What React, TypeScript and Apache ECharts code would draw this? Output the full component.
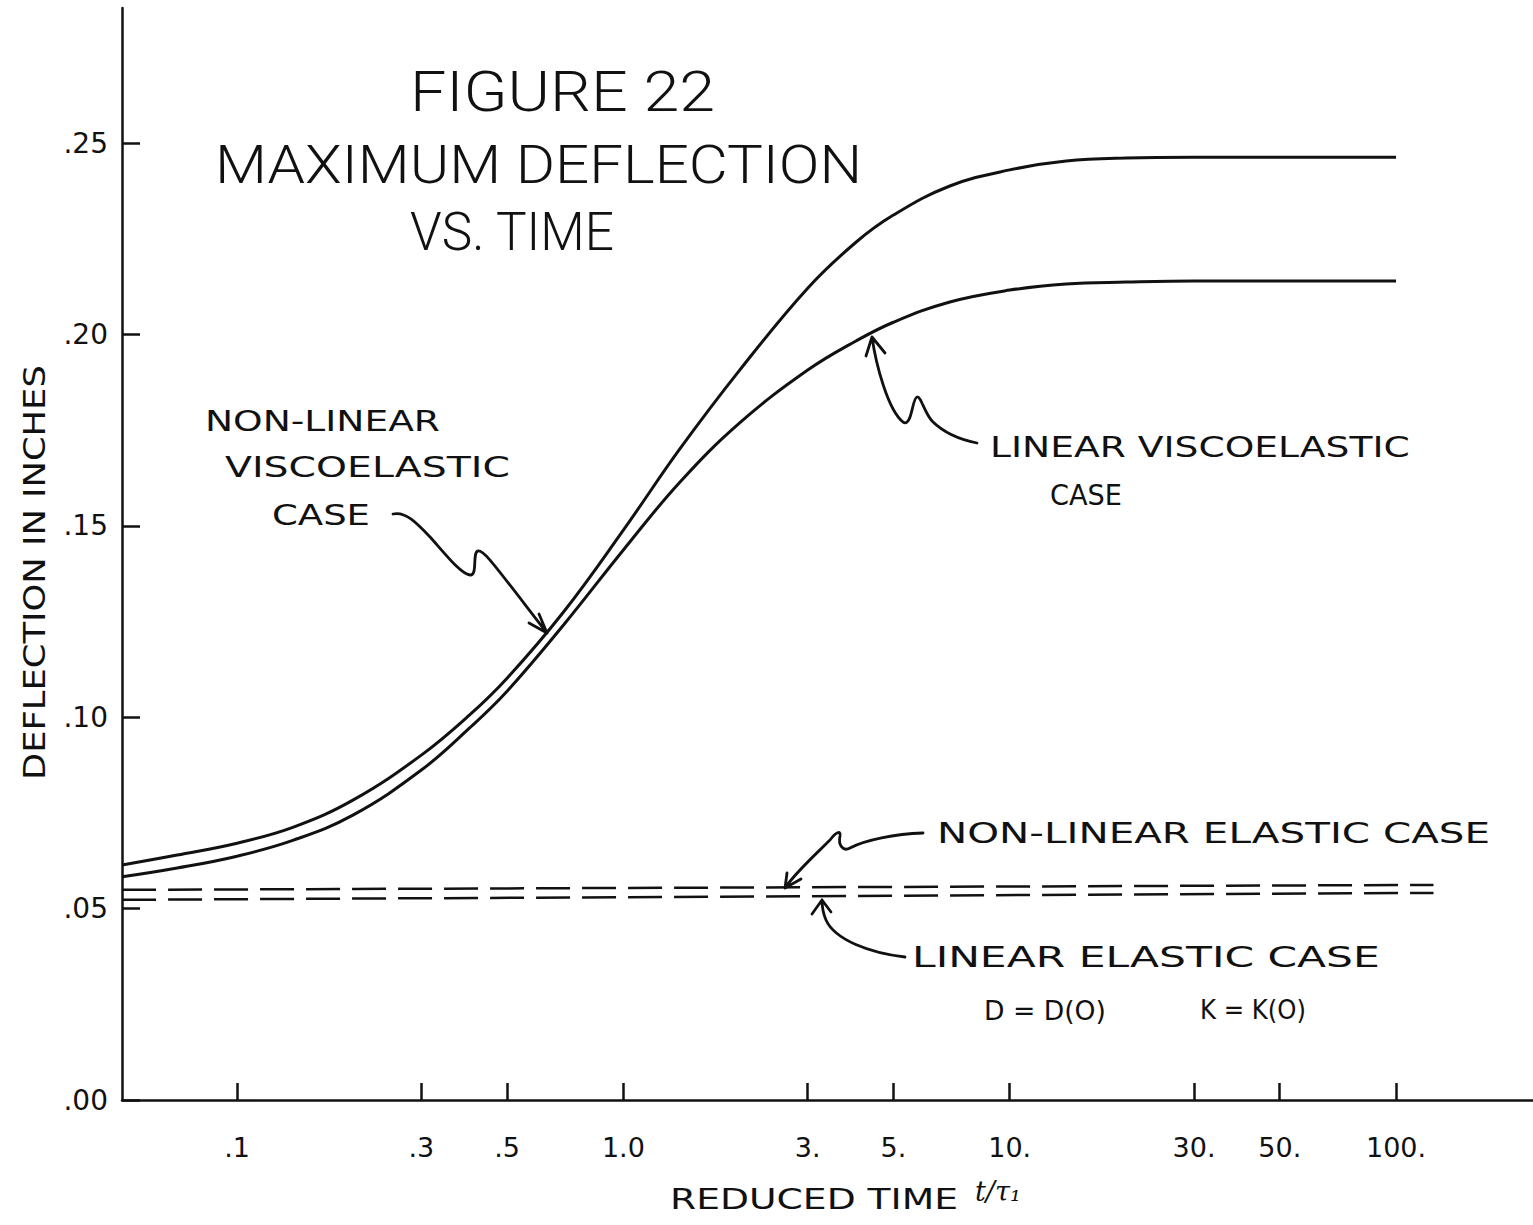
import React, { useEffect, useRef } from "react";
import * as echarts from "echarts";

// Reduced time t/τ1 sample points and the two viscoelastic deflection curves (inches)
const T_SAMPLES = [0.0504, 0.07, 0.1, 0.14, 0.2, 0.3, 0.4, 0.5, 0.7, 1, 1.4, 2, 3, 4, 5, 7, 10, 14, 20, 30, 50, 70, 100];
const NONLINEAR_VISCO = [0.0614, 0.064, 0.0671, 0.0713, 0.0784, 0.0901, 0.1006, 0.1102, 0.1275, 0.1489, 0.1701, 0.1907, 0.2121, 0.2241, 0.2312, 0.2388, 0.243, 0.2453, 0.2461, 0.2463, 0.2463, 0.2463, 0.2463];
const LINEAR_VISCO = [0.0583, 0.0606, 0.0637, 0.0679, 0.0745, 0.0862, 0.0972, 0.1068, 0.1241, 0.1437, 0.1614, 0.1769, 0.1907, 0.1983, 0.2032, 0.2085, 0.2116, 0.2132, 0.2137, 0.214, 0.214, 0.214, 0.214];

// Elastic reference cases (nearly constant)
const ELASTIC_T = [0.0504, 125];
const NONLINEAR_ELASTIC = [0.0549, 0.0562];
const LINEAR_ELASTIC = [0.0523, 0.0541];

// Axis ticks
const X_TICKS = [0.1, 0.3, 0.5, 1, 3, 5, 10, 30, 50, 100];
const X_TICK_LABELS = [".1", ".3", ".5", "1.0", "3.", "5.", "10.", "30.", "50.", "100."];
const Y_TICKS = [0, 0.05, 0.1, 0.15, 0.2, 0.25];
const Y_TICK_LABELS = [".00", ".05", ".10", ".15", ".20", ".25"];

const X_MIN_T = 0.05038;
const X_MAX_T = 226.2;
const Y_MAX = 0.2853;

const INK = "#111";
const FONT = '"DejaVu Sans", "Liberation Sans", sans-serif';
const TITLE_FONT = 'Roboto, "DejaVu Sans", sans-serif';

// Leader arrows (page pixels), each one curve plus an open arrowhead
const ARROW_PATHS = [
  "M393,514 C405,511 416,522 431,538 C446,555 461,574 470,575 C478,576 472,552 478,551 C484,550 492,562 547,633 M529,623 L547,633 L539,614",
  "M872,337 C876,365 888,410 903,422 C912,428 912,398 917,397 C921,396 924,412 932,421 C945,434 962,440 977,443 M866,356 L872,337 L885,353",
  "M923,833 C895,834 865,840 850,848 C843,852 838,845 840,836 C841,830 836,832 830,840 C815,855 795,873 785,888 M787,873 L785,888 L801,879",
  "M905,957 C870,953 835,940 826,920 C823,913 822,905 822,900 M812,914 L822,900 L831,912",
];

// Lettering: text, left, right, vertical centre, font size, title face?
const LETTERING: [string, number, number, number, number, boolean][] = [
  ["FIGURE 22", 410, 715, 92, 56, true],
  ["MAXIMUM DEFLECTION", 215, 862, 165, 54, true],
  ["VS. TIME", 410, 615, 232, 54, true],
  ["NON-LINEAR", 205, 440, 421, 29, false],
  ["VISCOELASTIC", 225, 510, 467, 29, false],
  ["CASE", 272, 370, 515, 29, false],
  ["LINEAR VISCOELASTIC", 990, 1410, 447, 29, false],
  ["CASE", 1050, 1122, 495, 29, false],
  ["NON-LINEAR ELASTIC CASE", 937, 1490, 833, 29, false],
  ["LINEAR ELASTIC CASE", 912, 1380, 957, 29, false],
  ["D = D(O)", 984, 1106, 1010, 27, false],
  ["K = K(O)", 1200, 1306, 1010, 27, false],
  ["REDUCED TIME", 670, 958, 1199, 29, false],
];

let measureCtx: CanvasRenderingContext2D | null = null;
function textWidth(text: string, size: number, family = FONT, weight: string | number = "normal"): number {
  if (!measureCtx) measureCtx = document.createElement("canvas").getContext("2d");
  if (!measureCtx) return text.length * size * 0.6;
  measureCtx.font = `normal normal ${weight} ${size}px ${family}`;
  return measureCtx.measureText(text).width;
}

function lettering(text: string, left: number, right: number, cy: number, size: number, title: boolean) {
  const family = title ? TITLE_FONT : FONT;
  const weight = title ? 300 : "normal";
  const w = textWidth(text, size, family, weight);
  return {
    type: "text",
    x: left,
    y: cy,
    scaleX: (right - left) / w,
    silent: true,
    style: {
      text,
      fontFamily: family,
      fontWeight: weight,
      fontSize: size,
      fill: INK,
      textAlign: "left",
      textVerticalAlign: "middle",
    },
  };
}

const lg = (t: number) => Math.log10(t);

function labelFor(v: number, ticks: number[], labels: string[], map: (x: number) => number) {
  const i = ticks.findIndex((t) => Math.abs(map(t) - v) < 1e-6);
  return i >= 0 ? labels[i] : "";
}

export default function App() {
  const ref = useRef<HTMLDivElement>(null);

  useEffect(() => {
    if (!ref.current) return;
    ARROW_PATHS.forEach((d, i) => {
      echarts.graphic.registerShape("leader" + i, echarts.graphic.extendPath(d, {}));
    });
    const chart = echarts.init(ref.current, undefined, { renderer: "svg" });

    const curve = (name: string, ts: number[], ys: number[], dashed: boolean) => ({
      name,
      type: "line",
      data: ts.map((t, i) => [lg(t), ys[i]]),
      smooth: dashed ? false : 0.4,
      showSymbol: false,
      silent: true,
      lineStyle: dashed
        ? { color: INK, width: 2.5, type: [34, 12] }
        : { color: INK, width: 3 },
    });

    const yTitleW = textWidth("DEFLECTION IN INCHES", 30);

    chart.setOption({
      animation: false,
      backgroundColor: "#fff",
      grid: { left: 122, right: 0, top: 8, bottom: 125, outerBoundsMode: "none" },
      xAxis: {
        type: "value",
        min: lg(X_MIN_T),
        max: lg(X_MAX_T),
        axisLine: { show: true, onZero: false, lineStyle: { color: INK, width: 2.5 } },
        axisTick: {
          show: true,
          inside: true,
          length: 17,
          customValues: X_TICKS.map(lg),
          lineStyle: { color: INK, width: 2.5 },
        },
        axisLabel: {
          show: true,
          margin: 34,
          customValues: X_TICKS.map(lg),
          color: INK,
          fontFamily: FONT,
          fontSize: 27,
          formatter: (v: number) => labelFor(v, X_TICKS, X_TICK_LABELS, lg),
        },
        splitLine: { show: false },
      },
      yAxis: {
        type: "value",
        min: 0,
        max: Y_MAX,
        axisLine: { show: true, onZero: false, lineStyle: { color: INK, width: 2.5 } },
        axisTick: {
          show: true,
          inside: true,
          length: 18,
          customValues: Y_TICKS,
          lineStyle: { color: INK, width: 2.5 },
        },
        axisLabel: {
          show: true,
          margin: 14,
          customValues: Y_TICKS,
          color: INK,
          fontFamily: FONT,
          fontSize: 28,
          formatter: (v: number) => labelFor(v, Y_TICKS, Y_TICK_LABELS, (x) => x),
        },
        splitLine: { show: false },
      },
      series: [
        curve("NON-LINEAR VISCOELASTIC CASE", T_SAMPLES, NONLINEAR_VISCO, false),
        curve("LINEAR VISCOELASTIC CASE", T_SAMPLES, LINEAR_VISCO, false),
        curve("NON-LINEAR ELASTIC CASE", ELASTIC_T, NONLINEAR_ELASTIC, true),
        curve("LINEAR ELASTIC CASE", ELASTIC_T, LINEAR_ELASTIC, true),
      ],
      graphic: [
        ...LETTERING.map(([t, l, r, cy, s, ti]) => lettering(t, l, r, cy, s, ti)),
        {
          type: "text",
          x: 975,
          y: 1191,
          silent: true,
          style: {
            text: "t/τ₁",
            fontFamily: '"DejaVu Serif", serif',
            fontStyle: "italic",
            fontSize: 27,
            fill: INK,
            textAlign: "left",
            textVerticalAlign: "middle",
          },
        },
        {
          type: "text",
          x: 35,
          y: 780,
          rotation: Math.PI / 2,
          scaleX: (780 - 365) / yTitleW,
          silent: true,
          style: {
            text: "DEFLECTION IN INCHES",
            fontFamily: FONT,
            fontSize: 30,
            fill: INK,
            textAlign: "left",
            textVerticalAlign: "middle",
          },
        },
        ...ARROW_PATHS.map((_, i) => ({
          type: "leader" + i,
          x: 0,
          y: 0,
          silent: true,
          style: { stroke: INK, fill: "none", lineWidth: 2.8, lineJoin: "round", lineCap: "round" },
        })),
      ],
    });

    return () => chart.dispose();
  }, []);

  return (
    <div
      ref={ref}
      style={{ position: "fixed", left: 0, top: 0, width: 1533, height: 1225, background: "#fff" }}
    />
  );
}
